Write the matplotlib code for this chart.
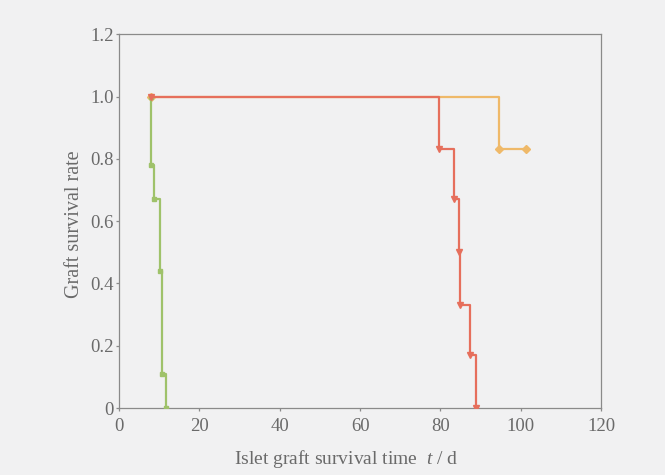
import matplotlib
matplotlib.use("Agg")
import matplotlib.pyplot as plt

# survival curves (day, survival after that day)
red_t = [8, 79.6, 83.4, 84.6, 84.9, 87.3, 88.9]
red_s = [1.0, 0.83, 0.67, 0.50, 0.33, 0.17, 0.0]

orange_t = [8, 94.5, 101.2]
orange_s = [1.0, 0.83, 0.83]

green_t = [8, 8, 8.8, 10.2, 10.7, 11.8]
green_s = [1.0, 0.78, 0.67, 0.44, 0.11, 0.0]

x_ticks = [0, 20, 40, 60, 80, 100, 120]
y_ticks = [0, 0.2, 0.4, 0.6, 0.8, 1.0, 1.2]
y_labels = ["0", "0.2", "0.4", "0.6", "0.8", "1.0", "1.2"]

plt.rcParams['font.family'] = ['Liberation Serif', 'DejaVu Serif']
plt.rcParams['mathtext.fontset'] = 'custom'
plt.rcParams['mathtext.it'] = 'Liberation Serif:italic'
plt.rcParams['mathtext.rm'] = 'Liberation Serif'

bg = '#f1f1f2'
axis_col = '#8a8a8a'
text_col = '#6a6a6a'

fig = plt.figure(figsize=(6.65, 4.75), dpi=100, facecolor=bg)
ax = fig.add_axes([0.179, 0.141, 0.725, 0.787], facecolor=bg)

ax.plot(orange_t, orange_s, drawstyle='steps-post', color='#efb969', lw=1.6,
        marker='D', ms=4, zorder=2)
ax.plot(green_t, green_s, drawstyle='steps-post', color='#9fc26a', lw=1.6,
        marker='s', ms=3.5, zorder=3)
ax.plot(red_t, red_s, drawstyle='steps-post', color='#e66f5c', lw=1.6,
        marker='v', ms=4, zorder=4)

ax.set_xlim(0, 120)
ax.set_ylim(0, 1.2)
ax.set_xticks(x_ticks)
ax.set_yticks(y_ticks)
ax.set_yticklabels(y_labels)

for sp in ax.spines.values():
    sp.set_color(axis_col)
    sp.set_linewidth(0.9)
ax.tick_params(direction='out', length=2, width=0.9, color=axis_col,
               labelcolor=text_col, labelsize=13.5)
ax.tick_params(axis='x', pad=5)
ax.tick_params(axis='y', pad=2)

ax.set_xlabel("Islet graft survival time  $t$ / d", fontsize=14, color=text_col)
ax.set_ylabel("Graft survival rate", fontsize=14.5, color=text_col)
ax.xaxis.set_label_coords(0.471, -0.108)
ax.yaxis.set_label_coords(-0.073, 0.492)

fig.savefig("out.png", dpi=100, facecolor=bg)
